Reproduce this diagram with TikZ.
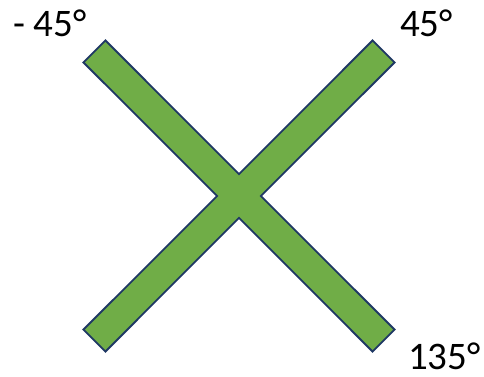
\documentclass[tikz,border=0pt]{standalone}
\usepackage{fontspec}
\setmainfont{Carlito}
\definecolor{barfill}{HTML}{70AD47}
\definecolor{barline}{HTML}{1F3864}
\tikzset{
  crossbar/.style={fill=barfill, draw=barline, line width=1.8pt, line join=miter},
  angle/.style={anchor=base west, inner sep=0pt, font=\fontsize{39}{44}\selectfont}
}
\begin{document}
\begin{tikzpicture}[x=1pt,y=1pt]
\useasboundingbox (0,0) rectangle (484,377);
% the crossed bars, outline of both as one shape
\begin{scope}[shift={(239,181)}]
\draw[crossbar] (0,21.9) -- (-133.6,155.6) -- (-155.6,133.6) -- (-21.9,0)
  -- (-155.6,-133.6) -- (-133.6,-155.6) -- (0,-21.9)
  -- (133.6,-155.6) -- (155.6,-133.6) -- (21.9,0)
  -- (155.6,133.6) -- (133.6,155.6) -- cycle;
\end{scope}
\node[angle] (minus45) at (13,340) {- 45°};
\node[angle] (plus45) at (400,340) {45°};
\node[angle] (deg135) at (408,7) {135°};
\end{tikzpicture}
\end{document}
